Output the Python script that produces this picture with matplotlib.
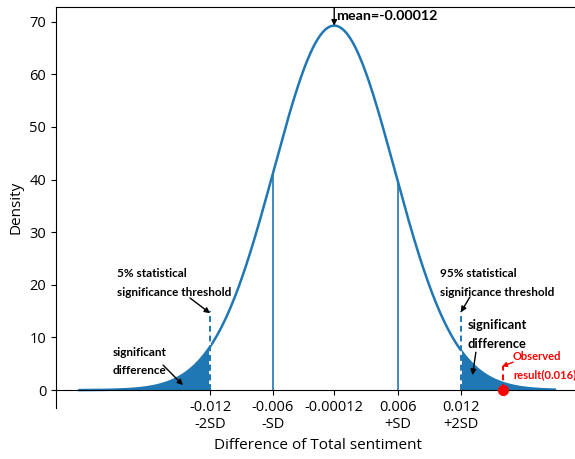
import numpy as np
import matplotlib.pyplot as plt

plt.rcParams['font.family'] = ['Open Sans', 'DejaVu Sans']

# distribution
mean = -0.00012
sd = 0.00576
x_start = -0.0245
x_end = 0.021
observed = 0.016
lower_cut = -0.012
upper_cut = 0.012
sd_lines = [-0.006, 0.006]

tick_pos = [-0.012, -0.006, -0.00012, 0.006, 0.012]
tick_labels = ['-0.012\n-2SD', '-0.006\n-SD', '-0.00012', '0.006\n+SD', '0.012\n+2SD']
y_ticks = [0, 10, 20, 30, 40, 50, 60, 70]


def pdf(v):
    return np.exp(-0.5 * ((v - mean) / sd) ** 2) / (sd * np.sqrt(2 * np.pi))


blue = '#1f77b4'
bold = dict(family=['Lato', 'DejaVu Sans'], fontweight='bold', va='center', ha='left')

fig = plt.figure(figsize=(5.75, 4.59), dpi=100)
ax = fig.add_axes([56 / 575, 1 - 408 / 459, 525 / 575, 401 / 459])

xs = np.linspace(x_start, x_end, 600)
ax.plot(xs, pdf(xs), color=blue, lw=1.8)

xl = np.linspace(x_start, lower_cut, 200)
ax.fill_between(xl, 0, pdf(xl), color=blue, lw=0)
xr = np.linspace(upper_cut, x_end, 200)
ax.fill_between(xr, 0, pdf(xr), color=blue, lw=0)

for v in sd_lines:
    ax.plot([v, v], [0, pdf(v)], color=blue, lw=1.2)

for v in [lower_cut, upper_cut]:
    ax.plot([v, v], [0, 15], color=blue, lw=1.4, ls=(0, (3, 2)), gapcolor='white')

# observed result
ax.plot([observed, observed], [0, 4.5], color='red', lw=1.4, ls=(0, (3, 2)))
ax.plot([observed], [0], 'o', color='red', ms=7, clip_on=False, zorder=5)

arrow = dict(arrowstyle='-|>', color='black', lw=1, mutation_scale=8, shrinkA=0, shrinkB=0)

ax.annotate('', xy=(mean, pdf(mean)), xytext=(mean, 72.6), arrowprops=arrow)
ax.text(0.00005, 71.1, 'mean=-0.00012', fontsize=10.3, **bold)

ax.text(-0.02091, 20.4, '5% statistical\nsignificance threshold', fontsize=8.5,
        linespacing=1.85, **bold)
ax.annotate('', xy=(-0.012, 14.6), xytext=(-0.01392, 17.5), arrowprops=arrow)

ax.text(-0.02129, 5.5, 'significant\ndifference', fontsize=8.5, linespacing=1.75, **bold)
ax.annotate('', xy=(-0.0146, 0.95), xytext=(-0.0165, 4.75), arrowprops=arrow)

ax.text(0.0100, 20.4, '95% statistical\nsignificance threshold', fontsize=8.5,
        linespacing=1.85, **bold)
ax.annotate('', xy=(0.012, 14.8), xytext=(0.01287, 17.7), arrowprops=arrow)

ax.text(0.01268, 10.55, 'significant\ndifference', fontsize=9.3, linespacing=1.7, **bold)
ax.annotate('', xy=(0.01311, 2.85), xytext=(0.01344, 7.2), arrowprops=arrow)

ax.text(0.01699, 4.66, 'Observed\nresult(0.016)', fontsize=8, color='red', linespacing=1.75, **bold)
ax.annotate('', xy=(0.01593, 4.5), xytext=(0.0170, 5.3),
            arrowprops=dict(arrowstyle='-|>', color='red', lw=1, mutation_scale=7, shrinkA=0, shrinkB=0))

ax.set_xlim(-0.02675, 0.0235)
ax.set_ylim(-3.4, 72.8)
ax.spines['bottom'].set_position(('data', 0))
ax.set_xticks(tick_pos)
ax.set_xticklabels(tick_labels, fontsize=10.5)
ax.set_yticks(y_ticks)
ax.tick_params(axis='y', labelsize=10.5)
ax.set_ylabel('Density', fontsize=11)
ax.set_xlabel('Difference of Total sentiment', fontsize=11)

plt.savefig('out.png', dpi=100)
